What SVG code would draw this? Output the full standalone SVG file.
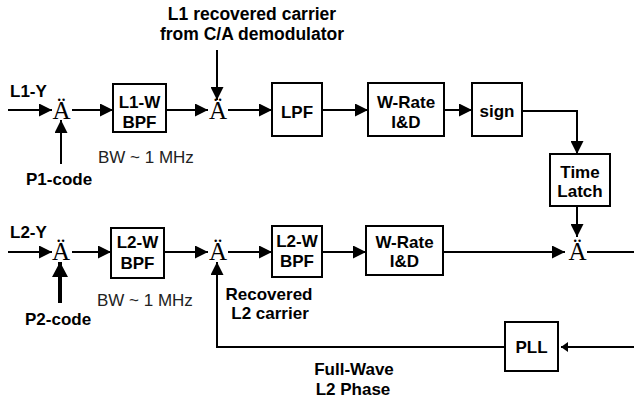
<svg xmlns="http://www.w3.org/2000/svg" width="634" height="401" viewBox="0 0 634 401">
<style>
.box{fill:#fff;stroke:#000;stroke-width:2}
.lbl{font-family:"Liberation Sans",Arial,sans-serif;font-weight:bold;font-size:17px;fill:#000}
.ttl{font-size:17.5px}
.c{text-anchor:middle}
.bw{font-family:"Liberation Sans",Arial,sans-serif;font-size:17px;fill:#222}
.mul{font-family:"Liberation Serif","Times New Roman",serif;font-size:25px;fill:#000;text-anchor:middle}
.ln{fill:none;stroke:#000;stroke-width:2}
</style>
<defs>
<marker id="ah" markerUnits="userSpaceOnUse" markerWidth="14" markerHeight="13" refX="13" refY="6.5" orient="auto">
<path d="M0,0 L13,6.5 L0,13 z" fill="#000"/>
</marker>
<marker id="ahs" markerUnits="userSpaceOnUse" markerWidth="8" markerHeight="10" refX="7" refY="5" orient="auto">
<path d="M0,0 L7,5 L0,10 z" fill="#000"/>
</marker>
<marker id="ahb" markerUnits="userSpaceOnUse" markerWidth="16" markerHeight="16" refX="15" refY="8" orient="auto">
<path d="M0,0 L15,8 L0,16 z" fill="#000"/>
</marker>
</defs>
<g id="connectors">
<line class="ln" x1="8" y1="110" x2="52" y2="110" marker-end="url(#ah)"/>
<line class="ln" x1="61" y1="164" x2="61" y2="120" marker-end="url(#ah)"/>
<line class="ln" x1="72" y1="110" x2="113" y2="110" marker-end="url(#ah)"/>
<line class="ln" x1="166" y1="110" x2="208" y2="110" marker-end="url(#ah)"/>
<line class="ln" x1="217" y1="50" x2="217" y2="100" marker-end="url(#ah)"/>
<line class="ln" x1="228" y1="110" x2="272" y2="110" marker-end="url(#ah)"/>
<line class="ln" x1="322" y1="110" x2="368" y2="110" marker-end="url(#ah)"/>
<line class="ln" x1="444" y1="110" x2="472" y2="110" marker-end="url(#ah)"/>
<polyline class="ln" points="522,111 577,111 577,154" marker-end="url(#ah)"/>
<line class="ln" x1="577" y1="206" x2="577" y2="237" marker-end="url(#ah)"/>
<line class="ln" x1="8" y1="252" x2="52" y2="252" marker-end="url(#ah)"/>
<line class="ln" x1="60" y1="303" x2="60" y2="262" style="stroke-width:4" marker-end="url(#ahb)"/>
<line class="ln" x1="72" y1="252" x2="111" y2="252" marker-end="url(#ah)"/>
<line class="ln" x1="164" y1="252" x2="208" y2="252" marker-end="url(#ah)"/>
<line class="ln" x1="228" y1="252" x2="272" y2="252" marker-end="url(#ah)"/>
<line class="ln" x1="322" y1="252" x2="366" y2="252" marker-end="url(#ah)"/>
<line class="ln" x1="443" y1="252" x2="565" y2="252" marker-end="url(#ah)"/>
<line class="ln" x1="587" y1="252" x2="634" y2="252"/>
<polyline class="ln" points="505,347 217,347 217,262" marker-end="url(#ah)"/>
<line class="ln" x1="634" y1="347" x2="561" y2="347" marker-end="url(#ahs)"/>
</g>
<g id="mul1"><text class="mul" x="61.5" y="119">Ä</text></g>
<g id="mul2"><text class="mul" x="218" y="119">Ä</text></g>
<g id="mul3"><text class="mul" x="61" y="260">Ä</text></g>
<g id="mul4"><text class="mul" x="218" y="260">Ä</text></g>
<g id="mul5"><text class="mul" x="577.5" y="260">Ä</text></g>
<g id="l1w"><rect class="box" x="113" y="84" width="53" height="48"/><text class="lbl c" x="139.5" y="108">L1-W</text><text class="lbl c" x="139.5" y="128">BPF</text></g>
<g id="lpf"><rect class="box" x="272" y="83" width="50" height="53"/><text class="lbl c" x="297" y="118">LPF</text></g>
<g id="wrate1"><rect class="box" x="368" y="83" width="76" height="53"/><text class="lbl c" x="406" y="108">W-Rate</text><text class="lbl c" x="406" y="128">I&amp;D</text></g>
<g id="sign"><rect class="box" x="472" y="83" width="50" height="53"/><text class="lbl c" x="497" y="117">sign</text></g>
<g id="latch"><rect class="box" x="550" y="154" width="60" height="52"/><text class="lbl c" x="580" y="178">Time</text><text class="lbl c" x="580" y="197">Latch</text></g>
<g id="l2w1"><rect class="box" x="111" y="228" width="53" height="50"/><text class="lbl c" x="137.5" y="248">L2-W</text><text class="lbl c" x="137.5" y="269">BPF</text></g>
<g id="l2w2"><rect class="box" x="272" y="226" width="50" height="51"/><text class="lbl c" x="297" y="247">L2-W</text><text class="lbl c" x="297" y="267">BPF</text></g>
<g id="wrate2"><rect class="box" x="366" y="226" width="77" height="49"/><text class="lbl c" x="404.5" y="248">W-Rate</text><text class="lbl c" x="404.5" y="267">I&amp;D</text></g>
<g id="pll"><rect class="box" x="505" y="322" width="53" height="49"/><text class="lbl c" x="531.5" y="353">PLL</text></g>
<g id="labels">
<text class="lbl" x="10" y="97">L1-Y</text>
<text class="lbl" x="10" y="238">L2-Y</text>
<text class="lbl" x="26" y="185">P1-code</text>
<text class="lbl" x="25" y="325">P2-code</text>
<text class="bw" x="98" y="163">BW ~ 1 MHz</text>
<text class="bw" x="97" y="306">BW ~ 1 MHz</text>
<text class="lbl ttl c" x="252" y="20">L1 recovered carrier</text>
<text class="lbl ttl c" x="252" y="39.5">from C/A demodulator</text>
<text class="lbl c" x="269" y="300">Recovered</text>
<text class="lbl c" x="270" y="319">L2 carrier</text>
<text class="lbl c" x="354" y="375">Full-Wave</text>
<text class="lbl c" x="353" y="395">L2 Phase</text>
</g>
</svg>
